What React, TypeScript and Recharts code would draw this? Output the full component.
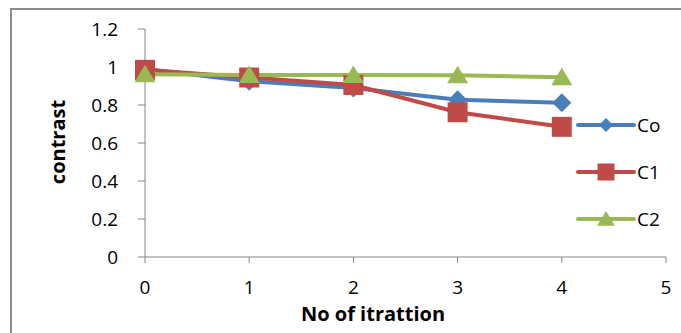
import { Line, LineChart, XAxis, YAxis } from "recharts";

const iterations = [0, 1, 2, 3, 4];
const coValues = [0.99, 0.925, 0.89, 0.828, 0.812];
const c1Values = [0.985, 0.945, 0.905, 0.762, 0.685];
const c2Values = [0.962, 0.958, 0.958, 0.956, 0.946];
const xTicks = [0, 1, 2, 3, 4, 5];
const yTicks = [0, 0.2, 0.4, 0.6, 0.8, 1, 1.2];

const BLUE = "#4A7EBB";
const RED = "#BE4B48";
const GREEN = "#98B954";
const AXIS = "#868686";
const FONT = "'Open Sans', 'Noto Sans', sans-serif";

const rows = iterations.map((x, i) => ({
  x,
  Co: coValues[i],
  C1: c1Values[i],
  C2: c2Values[i],
}));

type Shape = "diamond" | "square" | "triangle";

function markerPath(shape: Shape, cx: number, cy: number, s: number) {
  if (shape === "diamond") return `M${cx},${cy - s} L${cx + s},${cy} L${cx},${cy + s} L${cx - s},${cy} Z`;
  if (shape === "square") return `M${cx - s},${cy - s} h${2 * s} v${2 * s} h${-2 * s} Z`;
  return `M${cx},${cy - s * 0.95} L${cx + s * 1.05},${cy + s * 0.8} L${cx - s * 1.05},${cy + s * 0.8} Z`;
}

const makeDot = (shape: Shape, color: string, s: number) => (p: any) => {
  if (p.cx == null || p.cy == null) return <g key={p.key} />;
  return <path key={p.key} d={markerPath(shape, p.cx, p.cy, s)} fill={color} />;
};

const series = [
  { key: "Co", color: BLUE, shape: "diamond" as Shape, size: 9.5, legendSize: 7 },
  { key: "C1", color: RED, shape: "square" as Shape, size: 10, legendSize: 8.5 },
  { key: "C2", color: GREEN, shape: "triangle" as Shape, size: 10, legendSize: 8.5 },
];

function LegendBox() {
  return (
    <div style={{ position: "absolute", left: 576, top: 101, display: "flex", flexDirection: "column" }}>
      {series.map((s) => (
        <div key={s.key} style={{ display: "flex", alignItems: "center", height: 47 }}>
          <svg width={60} height={24}>
            <line x1={2} y1={12} x2={58} y2={12} stroke={s.color} strokeWidth={4} strokeLinecap="round" />
            <path d={markerPath(s.shape, 30, 12, s.legendSize)} fill={s.color} />
          </svg>
          <span style={{ fontFamily: FONT, fontSize: 19, color: "#000", marginLeft: 1 }}>{s.key}</span>
        </div>
      ))}
    </div>
  );
}

export default function App() {
  return (
    <div style={{ position: "absolute", left: 0, top: 0, width: 681, height: 333, background: "#fff", overflow: "hidden" }}>
      <div
        style={{
          position: "absolute",
          left: 10,
          top: 8,
          width: 671,
          height: 325,
          borderLeft: "2px solid #8c8c8c",
          borderTop: "2px solid #8c8c8c",
          boxSizing: "border-box",
        }}
      />
      <LineChart
        width={681}
        height={333}
        data={rows}
        margin={{ top: 29, right: 15, left: 0, bottom: 0 }}
        style={{ position: "absolute", left: 0, top: 0 }}
      >
        <XAxis
          dataKey="x"
          type="number"
          domain={[0, 5]}
          ticks={xTicks}
          height={76}
          stroke={AXIS}
          tickSize={6}
          tickMargin={18}
          tick={{ fill: "#000", fontSize: 19, fontFamily: FONT }}
          label={{
            content: () => (
              <text x={373} y={321} textAnchor="middle" fontFamily={FONT} fontWeight="bold" fontSize={20} fill="#000">
                No of itrattion
              </text>
            ),
          }}
        />
        <YAxis
          type="number"
          domain={[0, 1.2]}
          ticks={yTicks}
          width={145}
          stroke={AXIS}
          tickSize={7}
          tickMargin={20}
          tick={{ fill: "#000", fontSize: 19, fontFamily: FONT }}
          label={{
            content: () => (
              <text
                x={65}
                y={142}
                transform="rotate(-90 65 142)"
                textAnchor="middle"
                fontFamily={FONT}
                fontWeight="bold"
                fontSize={20}
                fill="#000"
              >
                contrast
              </text>
            ),
          }}
        />
        {series.map((s) => (
          <Line
            key={s.key}
            dataKey={s.key}
            stroke={s.color}
            strokeWidth={4}
            dot={makeDot(s.shape, s.color, s.size)}
            activeDot={false}
            isAnimationActive={false}
          />
        ))}
      </LineChart>
      <LegendBox />
    </div>
  );
}
